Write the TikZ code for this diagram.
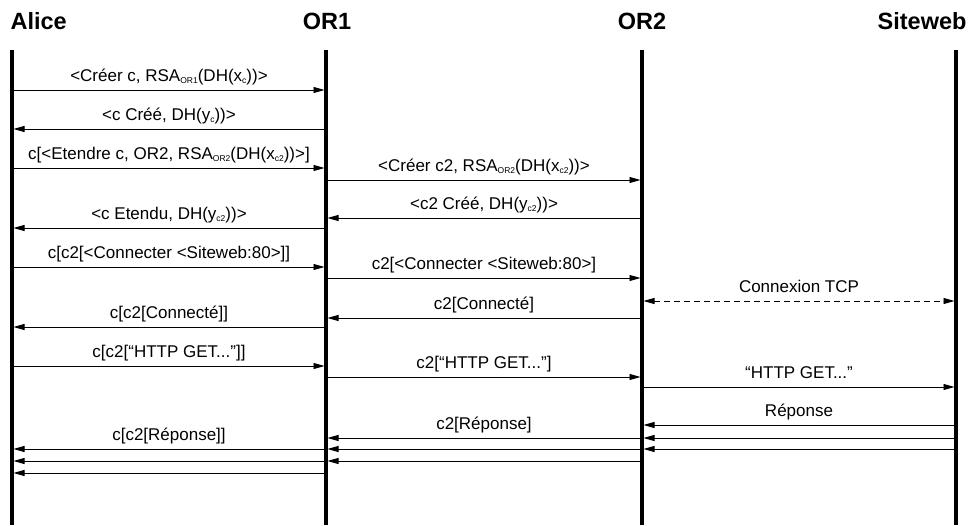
\documentclass[tikz,border=0pt]{standalone}
\usepackage{fontspec}
\setmainfont{Liberation Sans}
\usetikzlibrary{arrows.meta}
\newcommand\subtxt[1]{\raisebox{-2.5pt}{\fontsize{8.5}{9}\selectfont #1}}

\begin{document}
\begin{tikzpicture}[x=1pt, y=-1pt, font=\fontsize{17}{19}\selectfont,
    head/.style={font=\fontsize{23.5}{25}\selectfont\bfseries},
    tip/.style={Triangle[length=11pt, width=6pt]},
    msg/.style={-{Triangle[length=11pt, width=6pt]}, line width=0.9pt, shorten >=1.5pt},
    txt/.style={midway, anchor=base, yshift=9pt}]
  \useasboundingbox (0,0) rectangle (968,525);
  % lifelines
  \foreach \n/\x in {alice/12, or1/326, or2/642, web/956} {
    \draw[line width=3.5pt] (\x,50) coordinate (\n) -- (\x,525);
  }
  \node[head, anchor=west] (alicehead) at (7,21) {Alice};
  \node[head] (or1head) at (327,21) {OR1};
  \node[head] (or2head) at (642,21) {OR2};
  \node[head, anchor=east] (webhead) at (970,21) {Siteweb};
  % Alice <-> OR1
  \draw[msg] (alice |- 0,90) -- node[txt] {<Créer c, RSA\subtxt{OR1}(DH(x\subtxt{c}))>} (or1 |- 0,90);
  \draw[msg] (or1 |- 0,129) -- node[txt] {<c Créé, DH(y\subtxt{c}))>} (alice |- 0,129);
  \draw[msg] (alice |- 0,168) -- node[txt] {c[<Etendre c, OR2, RSA\subtxt{OR2}(DH(x\subtxt{c2}))>]} (or1 |- 0,168);
  \draw[msg] (or1 |- 0,228) -- node[txt] {<c Etendu, DH(y\subtxt{c2}))>} (alice |- 0,228);
  \draw[msg] (alice |- 0,267) -- node[txt] {c[c2[<Connecter <Siteweb:80>]]} (or1 |- 0,267);
  \draw[msg] (or1 |- 0,327) -- node[txt] {c[c2[Connecté]]} (alice |- 0,327);
  \draw[msg] (alice |- 0,366) -- node[txt] {c[c2[“HTTP GET...”]]} (or1 |- 0,366);
  \draw[msg] (or1 |- 0,449) -- node[txt] {c[c2[Réponse]]} (alice |- 0,449);
  \foreach \y in {461,473} \draw[msg] (or1 |- 0,\y) -- (alice |- 0,\y);
  % OR1 <-> OR2
  \draw[msg] (or1 |- 0,180) -- node[txt] {<Créer c2, RSA\subtxt{OR2}(DH(x\subtxt{c2}))>} (or2 |- 0,180);
  \draw[msg] (or2 |- 0,218) -- node[txt] {<c2 Créé, DH(y\subtxt{c2}))>} (or1 |- 0,218);
  \draw[msg] (or1 |- 0,278) -- node[txt] {c2[<Connecter <Siteweb:80>]} (or2 |- 0,278);
  \draw[msg] (or2 |- 0,318) -- node[txt] {c2[Connecté]} (or1 |- 0,318);
  \draw[msg] (or1 |- 0,377) -- node[txt] {c2[“HTTP GET...”]} (or2 |- 0,377);
  \draw[msg] (or2 |- 0,438) -- node[txt] {c2[Réponse]} (or1 |- 0,438);
  \foreach \y in {449,461} \draw[msg] (or2 |- 0,\y) -- (or1 |- 0,\y);
  % OR2 <-> Siteweb
  \draw[msg, {Triangle[length=11pt, width=6pt]}-{Triangle[length=11pt, width=6pt]}, shorten <=1.5pt,
    dash pattern=on 6pt off 4pt]
    (or2 |- 0,301) -- node[txt] {Connexion TCP} (web |- 0,301);
  \draw[msg] (or2 |- 0,387) -- node[txt] {“HTTP GET...”} (web |- 0,387);
  \draw[msg] (web |- 0,425) -- node[txt] {Réponse} (or2 |- 0,425);
  \foreach \y in {438,449} \draw[msg] (web |- 0,\y) -- (or2 |- 0,\y);
\end{tikzpicture}
\end{document}
